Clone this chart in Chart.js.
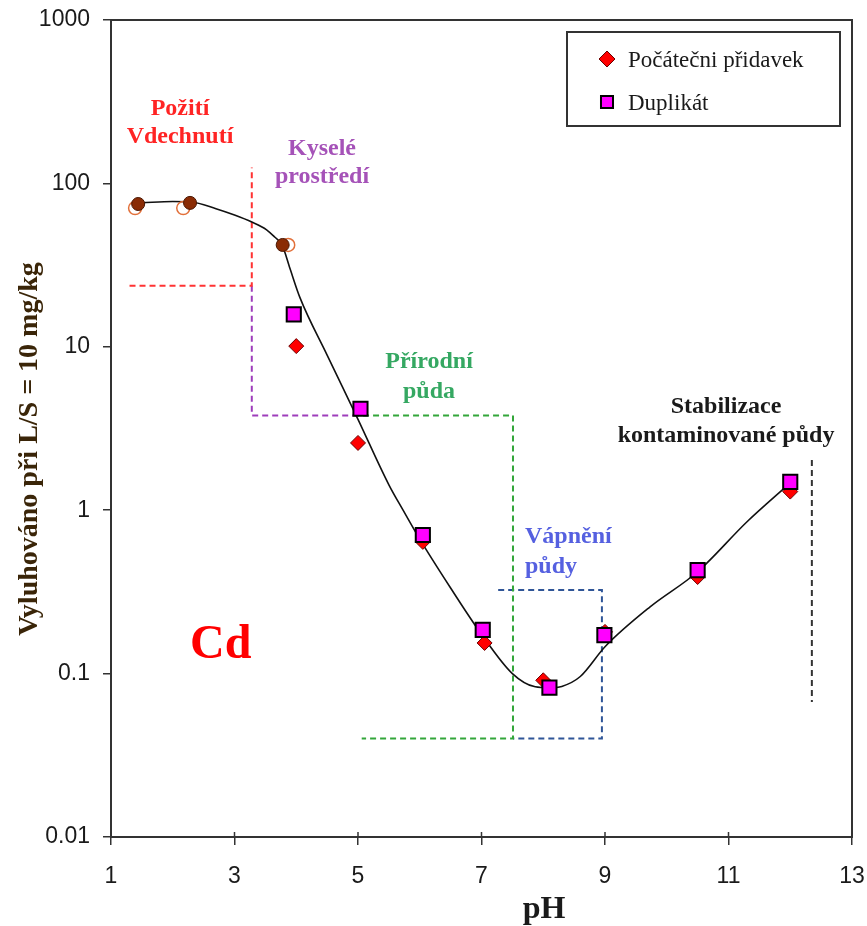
<!DOCTYPE html>
<html><head><meta charset="utf-8">
<script src="https://cdn.jsdelivr.net/npm/chart.js@4.4.1/dist/chart.umd.min.js"></script>
<style>html,body{margin:0;padding:0;background:#fff;}</style>
</head><body>
<canvas id="c" width="867" height="926"></canvas>
<script>
// ---- data ----
const xTicks = [1, 3, 5, 7, 9, 11, 13];
const yTicks = [0.01, 0.1, 1, 10, 100, 1000];
const yTickLabels = ['0.01', '0.1', '1', '10', '100', '1000'];

const seriesNames = ['Počátečni přidavek', 'Duplikát'];

const initialPH  = [4.0, 5.0, 6.05, 7.05, 8.0, 9.0, 10.5, 12.0];
const initialVal = [10.1, 2.58, 0.64, 0.154, 0.091, 0.18, 0.39, 1.3];

const duplicatePH  = [3.96, 5.04, 6.05, 7.02, 8.1, 8.99, 10.5, 12.0];
const duplicateVal = [15.8, 4.18, 0.705, 0.185, 0.082, 0.172, 0.43, 1.49];

const initialCirclePH  = [1.44, 2.28, 3.78];
const initialCircleVal = [74.8, 76, 42];
const duplicateCirclePH  = [1.39, 2.17, 3.87];
const duplicateCircleVal = [70.6, 70.6, 42];

const fitPH  = [1.5, 2.0, 2.3, 2.7, 3.0, 3.28, 3.52, 3.65, 3.77, 3.9, 4.06, 4.5, 5.0, 5.5, 5.73, 6.0, 6.5, 7.0, 7.5, 7.87, 8.1, 8.3, 8.6, 9.0, 9.73, 10.5, 11.3, 12.0];
const fitVal = [76, 77.5, 77, 70, 64, 58, 52, 47, 42, 30, 20, 8.9, 3.6, 1.43, 1.0, 0.665, 0.334, 0.174, 0.1, 0.083, 0.082, 0.0835, 0.096, 0.146, 0.256, 0.42, 0.85, 1.47];

// zone boundaries (dashed)
const redZonePH  = [1.3, 3.28, 3.28];
const redZoneVal = [23.6, 23.6, 125];
const acidZonePH  = [3.28, 3.28, 4.92];
const acidZoneVal = [23.6, 3.8, 3.8];
const naturalZonePH  = [4.92, 7.51, 7.51, 5.06];
const naturalZoneVal = [3.8, 3.8, 0.04, 0.04];
const limingZonePH  = [7.27, 8.95, 8.95, 7.51];
const limingZoneVal = [0.325, 0.325, 0.04, 0.04];
const stabZonePH  = [12.35, 12.35];
const stabZoneVal = [2.03, 0.067];

// zone labels (anchored in pH / value units)
const zoneLabels = [
  {lines: ['Požití', 'Vdechnutí'], ph: 2.117, vals: [262, 176.7], color: '#FF2424', align: 'center'},
  {lines: ['Kyselé', 'prostředí'], ph: 4.417, vals: [149, 100.6], color: '#A552B8', align: 'center'},
  {lines: ['Přírodní', 'půda'], ph: 6.15, vals: [7.42, 4.86], color: '#35A862', align: 'center'},
  {lines: ['Vápnění', 'půdy'], ph: 7.704, vals: [0.63, 0.4127], color: '#5560E0', align: 'left'},
  {lines: ['Stabilizace', 'kontaminované půdy'], ph: 10.96, vals: [3.94, 2.614], color: '#1a1a1a', align: 'center'}
];
const elementLabel = {text: 'Cd', ph: 2.28, val: 0.1246};

const xTitle = 'pH';
const yTitle = 'Vyluhováno při L/S = 10 mg/kg';

// ---- helpers ----
const pts = (xs, ys) => xs.map((x, i) => ({x: x, y: ys[i]}));
const dashed = (xs, ys, color) => ({
  data: pts(xs, ys), showLine: true, borderColor: color, borderWidth: 2,
  borderDash: [6, 4], pointRadius: 0, fill: false, tension: 0, order: 5, legendIndex: -1
});

const SERIF = '"Liberation Serif", "Times New Roman", serif';
const NARROW = '"Liberation Sans Narrow", "Arial Narrow", "Liberation Sans", sans-serif';

const overlay = {
  id: 'overlay',
  beforeDatasetsDraw(chart) {
    const {ctx, chartArea: a} = chart;
    ctx.save();
    ctx.strokeStyle = '#333';
    ctx.lineWidth = 2;
    ctx.strokeRect(a.left, a.top, a.right - a.left, a.bottom - a.top);
    const xs = chart.scales.x;
    ctx.lineWidth = 1.5;
    xTicks.forEach(t => {
      const px = xs.getPixelForValue(t);
      ctx.beginPath(); ctx.moveTo(px, a.bottom - 5); ctx.lineTo(px, a.bottom); ctx.stroke();
    });
    ctx.restore();
  },
  afterDatasetsDraw(chart) {
    const {ctx, chartArea: a} = chart;
    const xs = chart.scales.x, ys = chart.scales.y;
    ctx.save();
    // zone labels
    ctx.font = 'bold 24px ' + SERIF;
    ctx.textBaseline = 'alphabetic';
    zoneLabels.forEach(z => {
      ctx.fillStyle = z.color;
      ctx.textAlign = z.align;
      z.lines.forEach((t, i) => ctx.fillText(t, xs.getPixelForValue(z.ph), ys.getPixelForValue(z.vals[i])));
    });
    // element label
    ctx.fillStyle = '#FF0000';
    ctx.textAlign = 'left';
    ctx.font = 'bold 48px ' + SERIF;
    ctx.fillText(elementLabel.text, xs.getPixelForValue(elementLabel.ph), ys.getPixelForValue(elementLabel.val));

    // legend box
    const lx = a.right - 285, ly = a.top + 12, lw = 273, lh = 94;
    ctx.fillStyle = '#fff';
    ctx.fillRect(lx, ly, lw, lh);
    ctx.strokeStyle = '#333';
    ctx.lineWidth = 2;
    ctx.strokeRect(lx, ly, lw, lh);
    ctx.font = '23px ' + SERIF;
    ctx.textAlign = 'left';
    const items = chart.data.datasets.filter(d => d.legendIndex >= 0).sort((p, q) => p.legendIndex - q.legendIndex);
    items.forEach((d, i) => {
      const cy = ly + 27 + i * 43;
      ctx.fillStyle = d.backgroundColor; ctx.strokeStyle = d.borderColor; ctx.lineWidth = d.borderWidth;
      Chart.helpers.drawPoint(ctx, {pointStyle: d.pointStyle, radius: d.legendRadius, borderWidth: d.borderWidth, rotation: 0}, lx + 40, cy);
      ctx.fillStyle = '#1a1a1a';
      ctx.fillText(d.label, lx + 61, cy + 8);
    });

    // axis titles
    ctx.fillStyle = '#1a1a1a';
    ctx.font = 'bold 32px ' + SERIF;
    ctx.textAlign = 'center';
    ctx.fillText(xTitle, 544, 918);
    ctx.save();
    ctx.translate(30, 449);
    ctx.rotate(-Math.PI / 2);
    ctx.font = 'bold 28px ' + SERIF;
    ctx.fillStyle = '#3a2508';
    ctx.textBaseline = 'middle';
    ctx.fillText(yTitle, 0, 0);
    ctx.restore();
    ctx.restore();
  }
};

new Chart(document.getElementById('c'), {
  type: 'scatter',
  data: {
    datasets: [
      {label: seriesNames[1], data: pts(duplicatePH, duplicateVal), pointStyle: 'rect', pointRadius: 10, legendRadius: 8.5,
       backgroundColor: '#FF00FF', borderColor: '#000', borderWidth: 2, order: 0, legendIndex: 1},
      {label: seriesNames[0], data: pts(initialPH, initialVal), pointStyle: 'rectRot', pointRadius: 7.5, legendRadius: 8,
       backgroundColor: '#FF0000', borderColor: '#6a0000', borderWidth: 1, order: 1, legendIndex: 0},
      {label: 'circles1', data: pts(initialCirclePH, initialCircleVal), pointStyle: 'circle', pointRadius: 6.5,
       backgroundColor: '#8A2C05', borderColor: '#4a1500', borderWidth: 1, order: 2, legendIndex: -1},
      {label: 'circles2', data: pts(duplicateCirclePH, duplicateCircleVal), pointStyle: 'circle', pointRadius: 6.5,
       backgroundColor: 'rgba(0,0,0,0)', borderColor: '#E2703A', borderWidth: 1.5, order: 3, legendIndex: -1},
      {label: 'fit', data: pts(fitPH, fitVal), showLine: true, borderColor: '#111', borderWidth: 1.6, pointRadius: 0,
       cubicInterpolationMode: 'monotone', fill: false, order: 4, legendIndex: -1},
      dashed(redZonePH, redZoneVal, '#FF3333'),
      dashed(acidZonePH, acidZoneVal, '#9E3DBB'),
      dashed(naturalZonePH, naturalZoneVal, '#33A63A'),
      dashed(limingZonePH, limingZoneVal, '#2F5597'),
      dashed(stabZonePH, stabZoneVal, '#333')
    ]
  },
  options: {
    responsive: false,
    animation: false,
    layout: {padding: {left: 0, right: 15, top: 20, bottom: 0}},
    plugins: {legend: {display: false}, tooltip: {enabled: false}},
    scales: {
      x: {
        type: 'linear', min: 1, max: 13,
        afterBuildTicks: s => { s.ticks = xTicks.map(v => ({value: v})); },
        afterFit: s => { s.height = 89; s.paddingLeft = 0; s.paddingRight = 0; },
        border: {display: false},
        grid: {display: true, drawOnChartArea: false, drawTicks: true, tickLength: 8, color: '#333', lineWidth: 1.5},
        ticks: {autoSkip: false, maxRotation: 0, padding: 18, color: '#1a1a1a', font: {family: NARROW, size: 23}}
      },
      y: {
        type: 'logarithmic', min: 0.01, max: 1000,
        afterBuildTicks: s => { s.ticks = yTicks.map(v => ({value: v})); },
        afterFit: s => { s.width = 111; s.paddingTop = 0; s.paddingBottom = 0; },
        border: {display: false},
        grid: {display: true, drawOnChartArea: false, drawTicks: true, tickLength: 8, color: '#333', lineWidth: 1.5},
        ticks: {autoSkip: false, padding: 13, color: '#1a1a1a', font: {family: NARROW, size: 23},
          callback: (v) => { const i = yTicks.indexOf(v); return i >= 0 ? yTickLabels[i] : ''; }}
      }
    }
  },
  plugins: [overlay]
});
</script>
</body></html>
